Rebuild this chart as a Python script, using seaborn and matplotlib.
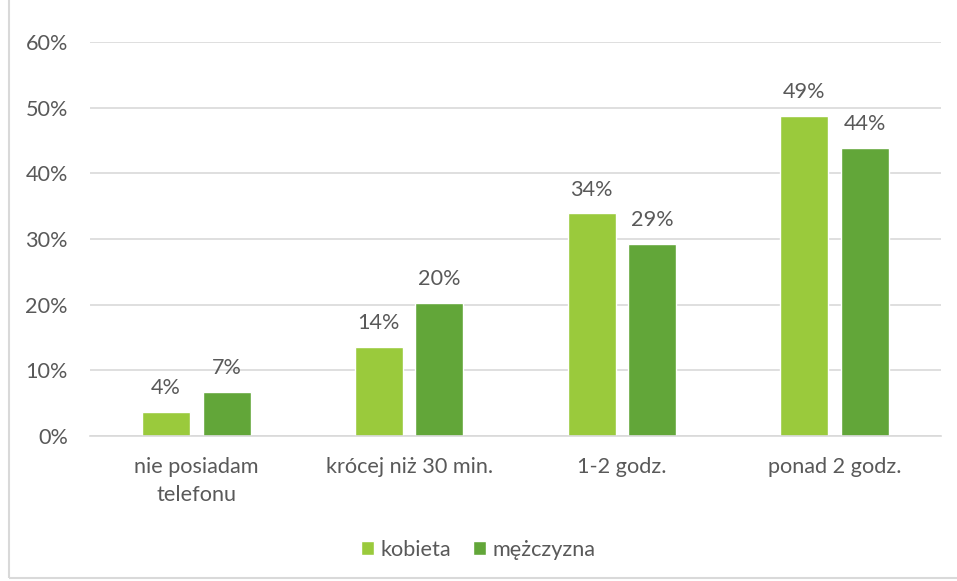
import matplotlib
matplotlib.use("Agg")
import matplotlib.pyplot as plt
import pandas as pd
import seaborn as sns
from matplotlib.patches import Rectangle

categories = ["nie posiadam\ntelefonu", "krócej niż 30 min.", "1-2 godz.", "ponad 2 godz."]
kobieta = [3.6, 13.6, 33.9, 48.7]
mezczyzna = [6.7, 20.2, 29.2, 43.9]
series = ["kobieta", "mężczyzna"]
colors = ["#9ACA3C", "#62A639"]
y_ticks = [0, 10, 20, 30, 40, 50, 60]

df = pd.DataFrame({
    "kategoria": categories * 2,
    "grupa": [series[0]] * 4 + [series[1]] * 4,
    "wartosc": kobieta + mezczyzna,
})

sns.set_theme(style="white")
plt.rcParams["font.family"] = ["Lato", "DejaVu Sans"]
text_color = "#595959"
fs = 15.6

fig = plt.figure(figsize=(9.57, 5.81), dpi=100)
ax = fig.add_axes([90 / 957, 1 - 436 / 581, (941 - 90) / 957, (436 - 42) / 581])

sns.barplot(data=df, x="kategoria", y="wartosc", hue="grupa", palette=colors,
            width=0.57, gap=0.21, ax=ax, legend=True, saturation=1)

ax.set_ylim(0, 60)
ax.set_xlim(-0.5, 3.5)
ax.set_yticks(y_ticks)
ax.set_yticklabels([f"{t}%" for t in y_ticks])
ax.yaxis.grid(True, color="#D9D9D9", linewidth=1.2)
ax.set_axisbelow(True)
for side in ["top", "right", "left"]:
    ax.spines[side].set_visible(False)
ax.spines["bottom"].set_color("#D9D9D9")
ax.spines["bottom"].set_linewidth(1.2)
ax.tick_params(axis="both", length=0, labelsize=fs, labelcolor=text_color)
ax.tick_params(axis="x", pad=15)
ax.tick_params(axis="y", pad=16)
for lbl in ax.get_xticklabels():
    lbl.set_linespacing(1.5)
ax.set_xlabel("")
ax.set_ylabel("")

for container in ax.containers:
    ax.bar_label(container, labels=[f"{v:.0f}%" for v in container.datavalues],
                 padding=10, fontsize=fs, color=text_color)

handles, labels = ax.get_legend_handles_labels()
ax.legend(handles, labels, loc="center", bbox_to_anchor=(0.5, 31 / 581),
          bbox_transform=fig.transFigure, ncol=2, frameon=False,
          fontsize=fs, labelcolor=text_color, handlelength=0.6,
          handleheight=0.6, handletextpad=0.3, columnspacing=1.0)

fig.patches.append(Rectangle((9 / 957, 3 / 581), 1.2, 1.2, transform=fig.transFigure,
                             fill=False, edgecolor="#D9D9D9", linewidth=1.5))

fig.savefig("out.png", dpi=100, facecolor="white")
